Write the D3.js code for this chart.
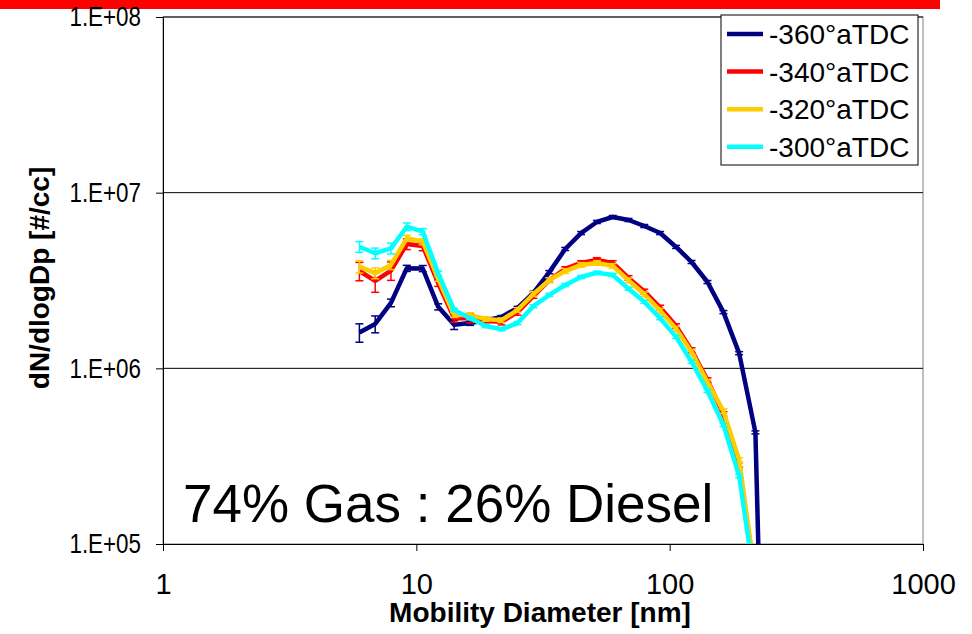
<!DOCTYPE html>
<html>
<head>
<meta charset="utf-8">
<script src="https://cdn.jsdelivr.net/npm/d3@7.9.0/dist/d3.min.js"></script>
<style>
  body { margin: 0; background: #fff; }
  svg { display: block; font-family: Arial, "Liberation Sans", sans-serif; }
</style>
</head>
<body>
<svg id="chart" width="972" height="634"></svg>
<script>
// mobility diameter bins [nm]
const diameters = [5.96, 6.88, 7.94, 9.17, 10.6, 12.2, 14.1, 16.3, 18.8, 21.7, 25.1, 29.0, 33.5,
  38.7, 44.7, 51.6, 59.6, 68.8, 79.4, 91.7, 106, 122, 141, 163, 188, 218, 251];

const seriesNames = ['-360°aTDC', '-340°aTDC', '-320°aTDC', '-300°aTDC'];
const seriesColors = ['#000080', '#ff0000', '#ffcc00', '#00ffff'];

// dN/dlogDp [#/cc]
const n360 = [1.60e6, 1.79e6, 2.36e6, 3.71e6, 3.70e6, 2.24e6, 1.77e6, 1.81e6, 1.88e6, 1.96e6, 2.21e6, 2.69e6, 3.53e6,
  4.78e6, 5.89e6, 6.81e6, 7.27e6, 6.99e6, 6.46e6, 5.89e6, 4.91e6, 4.03e6, 3.10e6, 2.09e6, 1.22e6, 4.32e5, 1.7e2];
const n340 = [3.58e6, 3.15e6, 3.60e6, 5.10e6, 4.97e6, 3.05e6, 1.93e6, 1.93e6, 1.86e6, 1.84e6, 2.09e6, 2.58e6, 3.18e6,
  3.68e6, 3.98e6, 4.14e6, 3.98e6, 3.27e6, 2.74e6, 2.22e6, 1.74e6, 1.27e6, 8.58e5, 5.50e5, 2.82e5, 6.2e4];
const n320 = [3.79e6, 3.48e6, 3.88e6, 5.50e6, 5.26e6, 3.23e6, 2.01e6, 2.01e6, 1.91e6, 1.88e6, 2.15e6, 2.65e6, 3.18e6,
  3.58e6, 3.88e6, 3.98e6, 3.83e6, 3.17e6, 2.64e6, 2.13e6, 1.68e6, 1.24e6, 8.36e5, 5.71e5, 3.01e5, 6.4e4];
const n300 = [4.92e6, 4.52e6, 4.82e6, 6.40e6, 6.00e6, 3.47e6, 2.15e6, 1.93e6, 1.74e6, 1.67e6, 1.81e6, 2.26e6, 2.62e6,
  2.98e6, 3.31e6, 3.50e6, 3.40e6, 2.84e6, 2.39e6, 1.93e6, 1.51e6, 1.09e6, 7.43e5, 4.76e5, 2.44e5, 5.7e4];

// error bar half-widths, % of value
const err360 = [12, 11, 5, 4, 4, 4, 6, 3, 3, 2, 2, 2, 2, 2, 2, 2, 2, 2, 2, 2, 2, 2, 2, 2, 2, 2, 2];
const err340 = [12, 14, 12, 7, 6, 4, 5, 6, 5, 4, 4, 3, 3, 3, 3, 3, 3, 3, 3, 3, 3, 3, 3, 3, 3, 3];
const err320 = [8, 7, 6, 4, 4, 3, 3, 3, 3, 3, 3, 3, 3, 3, 3, 3, 3, 3, 3, 3, 3, 3, 3, 3, 3, 3];
const err300 = [7, 7, 7, 5, 4, 3, 2, 2, 2, 2, 2, 2, 2, 2, 2, 2, 2, 2, 2, 2, 2, 2, 2, 2, 2, 2];

const xTicks = [1, 10, 100, 1000];
const yTicks = [1e5, 1e6, 1e7, 1e8];

const svg = d3.select('#chart');
const plotL = 163, plotR = 923, plotT = 17, plotB = 544;

const x = d3.scaleLog().domain([1, 1000]).range([plotL, plotR]);
const y = d3.scaleLog().domain([1e5, 1e8]).range([plotB, plotT]);

svg.append('rect').attr('width', 972).attr('height', 634).attr('fill', '#fff');

// red bar across the top
svg.append('rect').attr('x', 0).attr('y', 0).attr('width', 940).attr('height', 9).attr('fill', '#ff0000');

svg.append('defs').append('clipPath').attr('id', 'plot-clip')
  .append('rect').attr('x', plotL).attr('y', plotT).attr('width', plotR - plotL).attr('height', plotB - plotT);

// plot area border
svg.append('rect')
  .attr('x', plotL).attr('y', plotT).attr('width', plotR - plotL).attr('height', plotB - plotT)
  .attr('fill', 'none').attr('stroke', '#808080').attr('stroke-width', 1);

// gridlines
svg.append('g').selectAll('line')
  .data(yTicks.slice(1))
  .enter().append('line')
  .attr('x1', plotL).attr('x2', plotR)
  .attr('y1', d => y(d)).attr('y2', d => y(d))
  .attr('stroke', '#000').attr('stroke-width', 1);

// axes
const yAxis = svg.append('g')
  .attr('transform', `translate(${plotL},0)`)
  .call(d3.axisLeft(y).tickValues(yTicks).tickSize(7).tickSizeOuter(0).tickPadding(15)
    .tickFormat(d => '1.E+0' + Math.round(Math.log10(d))));

const xAxis = svg.append('g')
  .attr('transform', `translate(0,${plotB})`)
  .call(d3.axisBottom(x).tickValues(xTicks).tickSize(7).tickSizeOuter(0)
    .tickFormat(d3.format('d')));

[yAxis, xAxis].forEach(g => {
  g.select('.domain').attr('stroke', '#000');
  g.selectAll('.tick line').attr('stroke', '#000');
  g.selectAll('.tick text').attr('fill', '#000')
    .attr('font-family', 'Arial, "Liberation Sans", sans-serif');
});
// y labels are set in a narrow face in the original
const narrow = 0.8;
yAxis.selectAll('.tick text').attr('font-size', 28)
  .attr('x', -22 / narrow).attr('transform', `scale(${narrow},1)`);
xAxis.selectAll('.tick text').attr('font-size', 29).attr('y', 50).attr('dy', 0);

// series
const series = [n360, n340, n320, n300].map((vals, s) => ({
  name: seriesNames[s],
  color: seriesColors[s],
  err: [err360, err340, err320, err300][s],
  points: vals.map((v, i) => ({ d: diameters[i], v: v }))
}));

const line = d3.line().x(p => x(p.d)).y(p => y(p.v));
const plot = svg.append('g').attr('clip-path', 'url(#plot-clip)');

series.forEach(s => {
  const g = plot.append('g');
  g.append('path')
    .datum(s.points)
    .attr('d', line)
    .attr('fill', 'none')
    .attr('stroke', s.color)
    .attr('stroke-width', 4.5)
    .attr('stroke-linejoin', 'round');

  const bars = g.selectAll('g.err')
    .data(s.points.map((p, i) => ({ d: p.d, v: p.v, e: p.v * s.err[i] / 100 })))
    .enter().append('g').attr('class', 'err');
  bars.append('line')
    .attr('x1', p => x(p.d)).attr('x2', p => x(p.d))
    .attr('y1', p => y(p.v + p.e)).attr('y2', p => y(Math.max(p.v - p.e, 1)))
    .attr('stroke', s.color).attr('stroke-width', 1.5);
  [1, -1].forEach(sign => {
    bars.append('line')
      .attr('x1', p => x(p.d) - 4).attr('x2', p => x(p.d) + 4)
      .attr('y1', p => y(Math.max(p.v + sign * p.e, 1))).attr('y2', p => y(Math.max(p.v + sign * p.e, 1)))
      .attr('stroke', s.color).attr('stroke-width', 1.5);
  });
});

// legend
const legend = svg.append('g');
legend.append('rect')
  .attr('x', 721).attr('y', 15).attr('width', 197).attr('height', 150)
  .attr('fill', '#fff').attr('stroke', '#000').attr('stroke-width', 1);
series.forEach((s, i) => {
  const ly = 34 + i * 37.6;
  legend.append('line')
    .attr('x1', 727).attr('x2', 763).attr('y1', ly).attr('y2', ly)
    .attr('stroke', s.color).attr('stroke-width', 4.5);
  legend.append('text')
    .attr('x', 769).attr('y', ly).attr('dy', '0.36em')
    .attr('font-size', 28).text(s.name);
});

// annotation
svg.append('text')
  .attr('x', 183).attr('y', 522)
  .attr('font-size', 53)
  .text('74% Gas : 26% Diesel');

// axis titles
svg.append('text')
  .attr('x', 540).attr('y', 622)
  .attr('text-anchor', 'middle')
  .attr('font-size', 28).attr('font-weight', 'bold')
  .text('Mobility Diameter [nm]');

svg.append('text')
  .attr('transform', 'translate(49,278) rotate(-90)')
  .attr('text-anchor', 'middle')
  .attr('font-size', 28).attr('font-weight', 'bold')
  .text('dN/dlogDp [#/cc]');
</script>
</body>
</html>
